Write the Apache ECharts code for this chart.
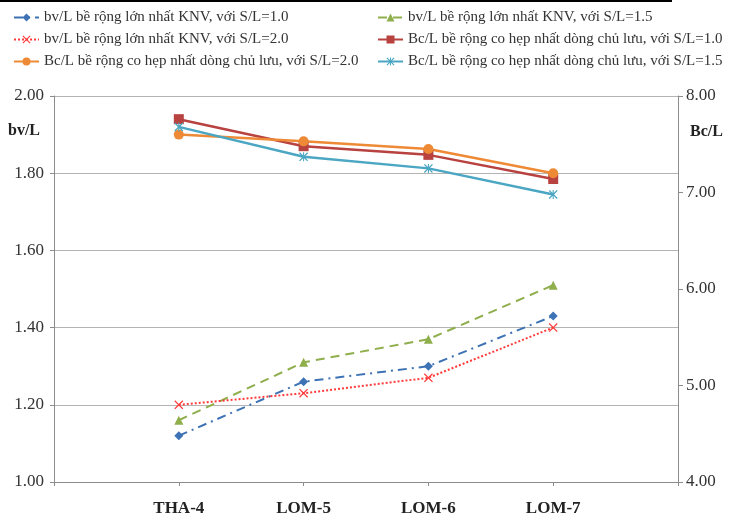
<!DOCTYPE html>
<html>
<head>
<meta charset="utf-8">
<script src="https://cdn.jsdelivr.net/npm/echarts@6/dist/echarts.min.js"></script>
<style>html,body{margin:0;padding:0;background:#fff;}#c{width:734px;height:517px;}</style>
</head>
<body>
<div id="c"></div>
<script>
// categories
var categories = ['THA-4', 'LOM-5', 'LOM-6', 'LOM-7'];
// bv/L (left axis)
var bvSL10 = [1.12, 1.26, 1.30, 1.43];
var bvSL15 = [1.16, 1.31, 1.37, 1.51];
var bvSL20 = [1.20, 1.23, 1.27, 1.40];
// Bc/L (right axis)
var bcSL10 = [7.76, 7.48, 7.39, 7.14];
var bcSL20 = [7.60, 7.53, 7.45, 7.20];
var bcSL15 = [7.68, 7.37, 7.25, 6.98];
// tick settings
var leftTicks = {min: 1.0, max: 2.0, interval: 0.2};
var rightTicks = {min: 4.0, max: 8.0, interval: 1.0};

var names = [
  'bv/L bề rộng lớn nhất KNV, với S/L=1.0',
  'bv/L bề rộng lớn nhất KNV, với S/L=1.5',
  'bv/L bề rộng lớn nhất KNV, với S/L=2.0',
  'Bc/L bề rộng co hẹp nhất dòng chủ lưu, với S/L=1.0',
  'Bc/L bề rộng co hẹp nhất dòng chủ lưu, với S/L=2.0',
  'Bc/L bề rộng co hẹp nhất dòng chủ lưu, với S/L=1.5'
];

function pad(arr) { return ['-'].concat(arr).concat(['-']); }
var xCats = [''].concat(categories).concat(['']);

var xPath = 'path://M1,0 L5,4 L9,0 L10,1 L6,5 L10,9 L9,10 L5,6 L1,10 L0,9 L4,5 L0,1 Z';
var starPath = 'path://M1,0 L5,4 L9,0 L10,1 L6,5 L10,9 L9,10 L5,6 L1,10 L0,9 L4,5 L0,1 Z M4.4,0 L5.6,0 L5.6,10 L4.4,10 Z';

var serif = 'Liberation Serif';
var legendText = {fontFamily: serif, fontSize: 15, color: '#333'};

var chart = echarts.init(document.getElementById('c'), null, {renderer: 'canvas'});
chart.setOption({
  animation: false,
  backgroundColor: '#fff',
  grid: {left: 54, right: 56, top: 96, bottom: 34, containLabel: false},
  legend: [
    {data: [names[0], names[2], names[4]], orient: 'vertical', left: 8, top: 5, itemGap: 7,
     itemWidth: 25, itemHeight: 10, textStyle: legendText},
    {data: [names[1], names[3], names[5]], orient: 'vertical', left: 372, top: 5, itemGap: 7,
     itemWidth: 25, itemHeight: 10, textStyle: legendText}
  ],
  graphic: [
    {type: 'rect', left: 0, top: 0, shape: {width: 672, height: 2}, style: {fill: '#000'}},
    {type: 'text', left: 8, top: 123, style: {text: 'bv/L', fontFamily: serif, fontWeight: 'bold', fontSize: 16, fill: '#222'}},
    {type: 'text', left: 690, top: 124, style: {text: 'Bc/L', fontFamily: serif, fontWeight: 'bold', fontSize: 16, fill: '#222'}}
  ],
  xAxis: {
    type: 'category', data: xCats, boundaryGap: false,
    axisLine: {lineStyle: {color: '#8c8c8c', width: 1}},
    axisTick: {show: true, length: 4, lineStyle: {color: '#8c8c8c'}},
    axisLabel: {fontFamily: serif, fontWeight: 'bold', fontSize: 17, color: '#222', margin: 18}
  },
  yAxis: [
    {type: 'value', min: leftTicks.min, max: leftTicks.max, interval: leftTicks.interval, position: 'left',
     axisLine: {show: true, lineStyle: {color: '#8c8c8c'}},
     axisTick: {show: true, length: 4, lineStyle: {color: '#8c8c8c'}},
     splitLine: {show: true, lineStyle: {color: '#b4b4b4', width: 1}},
     axisLabel: {formatter: function (v) { return v.toFixed(2); }, fontFamily: serif, fontSize: 17, color: '#333', margin: 10}},
    {type: 'value', min: rightTicks.min, max: rightTicks.max, interval: rightTicks.interval, position: 'right',
     axisLine: {show: true, lineStyle: {color: '#8c8c8c'}},
     axisTick: {show: true, length: 5, lineStyle: {color: '#8c8c8c'}},
     splitLine: {show: false},
     axisLabel: {formatter: function (v) { return v.toFixed(2); }, fontFamily: serif, fontSize: 17, color: '#333', margin: 8}}
  ],
  series: [
    {name: names[0], type: 'line', yAxisIndex: 0, data: pad(bvSL10), symbol: 'diamond', symbolSize: 9,
     itemStyle: {color: '#3d72b4'}, lineStyle: {color: '#3d72b4', width: 2, type: [9, 5, 2, 5]}},
    {name: names[1], type: 'line', yAxisIndex: 0, data: pad(bvSL15), symbol: 'triangle', symbolSize: 9,
     itemStyle: {color: '#8fae4c'}, lineStyle: {color: '#8fae4c', width: 2, type: [9, 6]}},
    {name: names[2], type: 'line', yAxisIndex: 0, data: pad(bvSL20), symbol: xPath, symbolSize: 9,
     itemStyle: {color: '#ff3b3b'}, lineStyle: {color: '#ff3b3b', width: 2, type: [2, 2]}},
    {name: names[3], type: 'line', yAxisIndex: 1, data: pad(bcSL10), symbol: 'rect', symbolSize: 10,
     itemStyle: {color: '#b7423f'}, lineStyle: {color: '#b7423f', width: 2.5}},
    {name: names[4], type: 'line', yAxisIndex: 1, data: pad(bcSL20), symbol: 'circle', symbolSize: 10,
     itemStyle: {color: '#ee8a35'}, lineStyle: {color: '#ee8a35', width: 2.5}},
    {name: names[5], type: 'line', yAxisIndex: 1, data: pad(bcSL15), symbol: starPath, symbolSize: 9,
     itemStyle: {color: '#4aa6c2'}, lineStyle: {color: '#4aa6c2', width: 2.5}}
  ]
});
</script>
</body>
</html>
